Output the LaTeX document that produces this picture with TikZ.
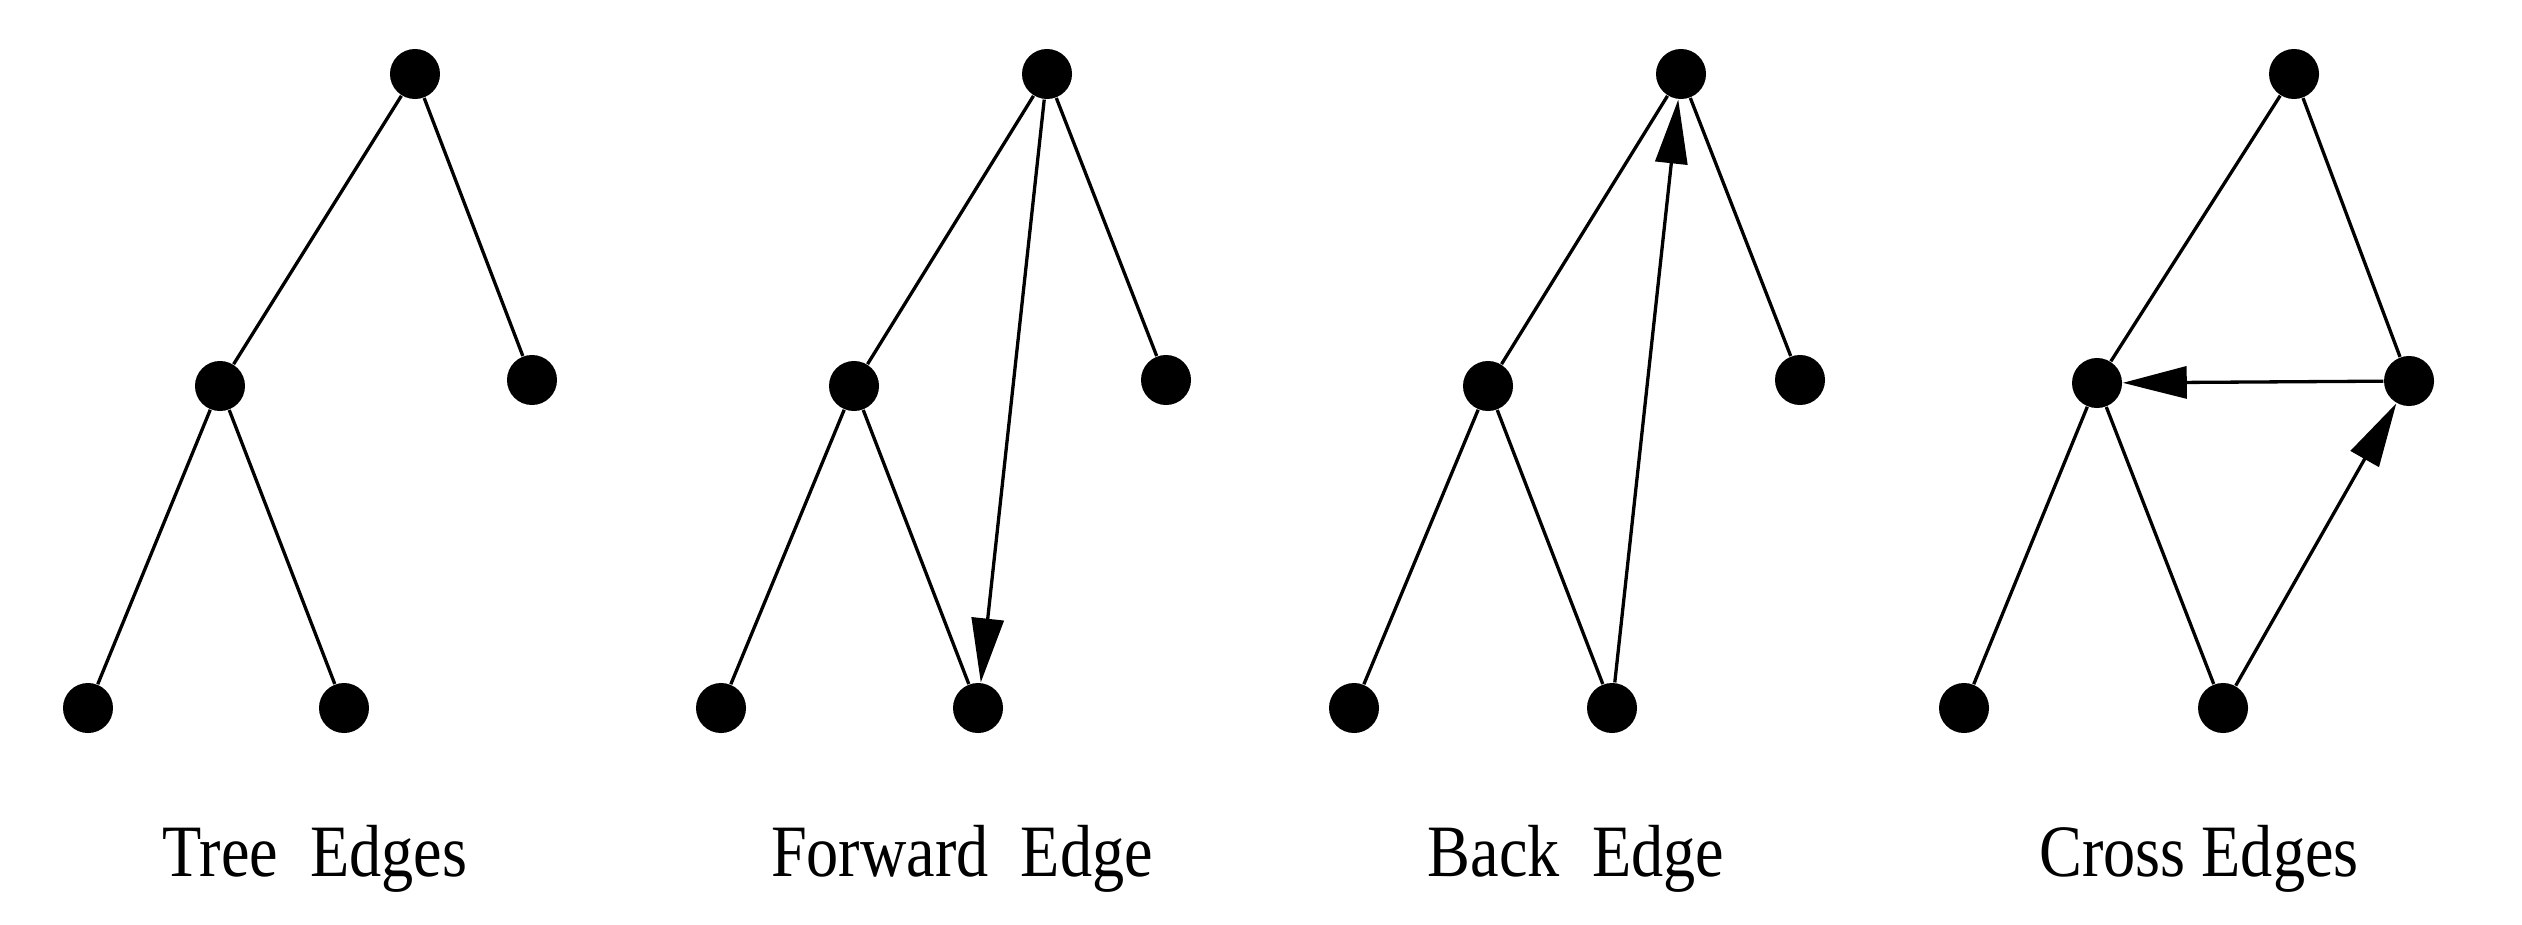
\documentclass[tikz,border=0pt]{standalone}
\usepackage{fontspec}
\setmainfont[FakeStretch=0.87]{Liberation Serif}
\usetikzlibrary{arrows.meta}
\begin{document}
\begin{tikzpicture}[x=0.01cm,y=-0.01cm,
  vtx/.style={circle,fill=black,inner sep=0pt,minimum size=0.5cm},
  edg/.style={line width=0.033cm},
  arr/.style={edg,-{Triangle[length=0.64cm,width=0.32cm]}},
  lbl/.style={font=\fontsize{21pt}{24pt}\selectfont,anchor=base}]
\useasboundingbox (0,0) rectangle (2522,924);
% panel 1
\node[vtx] (t1) at (415,74) {};
\node[vtx] (m1) at (220,386) {};
\node[vtx] (r1) at (532,380) {};
\node[vtx] (a1) at (88,708) {};
\node[vtx] (b1) at (344,708) {};
\draw[edg] (t1) -- (m1); \draw[edg] (t1) -- (r1);
\draw[edg] (m1) -- (a1); \draw[edg] (m1) -- (b1);
\node[lbl] (l1) at (315,876) {Tree\ \ Edges};
% panel 2
\node[vtx] (t2) at (1047,74) {};
\node[vtx] (m2) at (854,386) {};
\node[vtx] (r2) at (1166,380) {};
\node[vtx] (a2) at (721,708) {};
\node[vtx] (b2) at (978,708) {};
\draw[edg] (t2) -- (m2); \draw[edg] (t2) -- (r2);
\draw[edg] (m2) -- (a2); \draw[edg] (m2) -- (b2);
\draw[arr] (t2) -- (b2);
\node[lbl] (l2) at (962,876) {Forward\ \ Edge};
% panel 3
\node[vtx] (t3) at (1681,74) {};
\node[vtx] (m3) at (1488,386) {};
\node[vtx] (r3) at (1800,380) {};
\node[vtx] (a3) at (1354,708) {};
\node[vtx] (b3) at (1612,708) {};
\draw[edg] (t3) -- (m3); \draw[edg] (t3) -- (r3);
\draw[edg] (m3) -- (a3); \draw[edg] (m3) -- (b3);
\draw[arr] (b3) -- (t3);
\node[lbl] (l3) at (1576,876) {Back\ \ Edge};
% panel 4
\node[vtx] (t4) at (2294,74) {};
\node[vtx] (m4) at (2097,383) {};
\node[vtx] (r4) at (2409,381) {};
\node[vtx] (a4) at (1964,708) {};
\node[vtx] (b4) at (2223,708) {};
\draw[edg] (t4) -- (m4); \draw[edg] (t4) -- (r4);
\draw[edg] (m4) -- (a4); \draw[edg] (m4) -- (b4);
\draw[arr] (r4) -- (m4);
\draw[arr] (b4) -- (r4);
\node[lbl] (l4) at (2199,876) {Cross Edges};
\end{tikzpicture}
\end{document}
